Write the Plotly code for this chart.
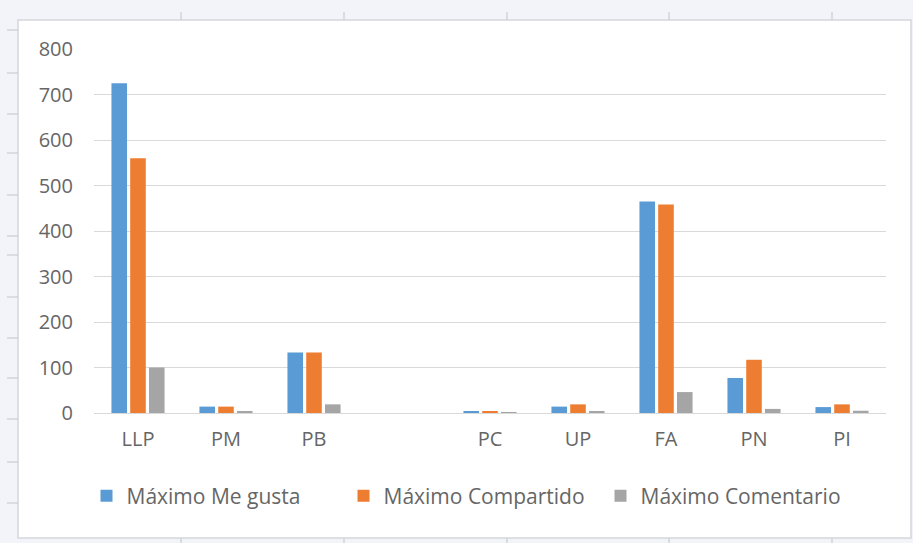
import plotly.graph_objects as go

categories = ["LLP", "PM", "PB", " ", "PC", "UP", "FA", "PN", "PI"]
me_gusta = [725, 14, 133, None, 4, 14, 465, 77, 13]
compartido = [560, 14, 133, None, 4, 19, 458, 117, 19]
comentario = [100, 4, 19, None, 1, 4, 46, 9, 5]
series_names = ["Máximo Me gusta", "Máximo Compartido", "Máximo Comentario"]
colors = ["#5B9BD5", "#ED7D31", "#A5A5A5"]
y_ticks = [0, 100, 200, 300, 400, 500, 600, 700, 800]

W, H = 913, 543
ML, MR, MT, MB = 94, 27, 49, 130
PW = W - ML - MR
PH = H - MT - MB


def px2x(px):
    return (px - ML) / PW


def py2y(py):
    return (H - MB - py) / PH


fig = go.Figure()
for name, vals, col in zip(series_names, [me_gusta, compartido, comentario], colors):
    fig.add_trace(go.Bar(x=categories, y=vals, name=name, marker=dict(color=col, line=dict(width=0))))

txt = "#666666"
font_family = "Open Sans, Liberation Sans, sans-serif"

shapes = []
# chart area white box with border
shapes.append(dict(type="rect", xref="paper", yref="paper", layer="below",
                   x0=px2x(18), x1=px2x(911), y0=py2y(538), y1=py2y(20),
                   fillcolor="white", line=dict(color="#d4d6dc", width=1.5)))
# spreadsheet column ticks (top and bottom)
for cx in [181, 344, 507, 669, 832]:
    shapes.append(dict(type="line", xref="paper", yref="paper", layer="below",
                       x0=px2x(cx), x1=px2x(cx), y0=py2y(12), y1=py2y(20),
                       line=dict(color="#c9cbd1", width=1.2)))
    shapes.append(dict(type="line", xref="paper", yref="paper", layer="below",
                       x0=px2x(cx), x1=px2x(cx), y0=py2y(538), y1=py2y(543),
                       line=dict(color="#c9cbd1", width=1.2)))
# spreadsheet row ticks (left)
for ry in [30, 73, 114, 153, 195, 236, 255, 297, 338, 378, 419, 462, 503]:
    shapes.append(dict(type="line", xref="paper", yref="paper", layer="below",
                       x0=px2x(7), x1=px2x(18), y0=py2y(ry), y1=py2y(ry),
                       line=dict(color="#c9cbd1", width=1.2)))

fig.update_layout(
    width=W, height=H,
    margin=dict(l=ML, r=MR, t=MT, b=MB, pad=0),
    paper_bgcolor="#f2f4f9",
    plot_bgcolor="white",
    barmode="group",
    bargap=0.36,
    bargroupgap=0.17,
    font=dict(family=font_family, size=20, color=txt),
    shapes=shapes,
    showlegend=True,
    legend=dict(orientation="h", x=px2x(472), xanchor="center", y=py2y(496), yanchor="middle",
                font=dict(size=21, color=txt), bgcolor="rgba(0,0,0,0)",
                itemwidth=30, entrywidth=212, entrywidthmode="pixels",
                traceorder="normal"),
    xaxis=dict(type="category", showgrid=False, showline=False, ticks="",
               tickfont=dict(size=20, color=txt), ticklabelstandoff=12,
               fixedrange=True),
    yaxis=dict(range=[0, 800], tickvals=y_ticks, showgrid=True, gridcolor="#d9d9d9",
               gridwidth=1.4, zeroline=True, zerolinecolor="#d9d9d9", zerolinewidth=1.4,
               showline=False, ticks="", tickfont=dict(size=20, color=txt),
               ticklabelstandoff=20, fixedrange=True),
)

fig.write_html("out.html")
